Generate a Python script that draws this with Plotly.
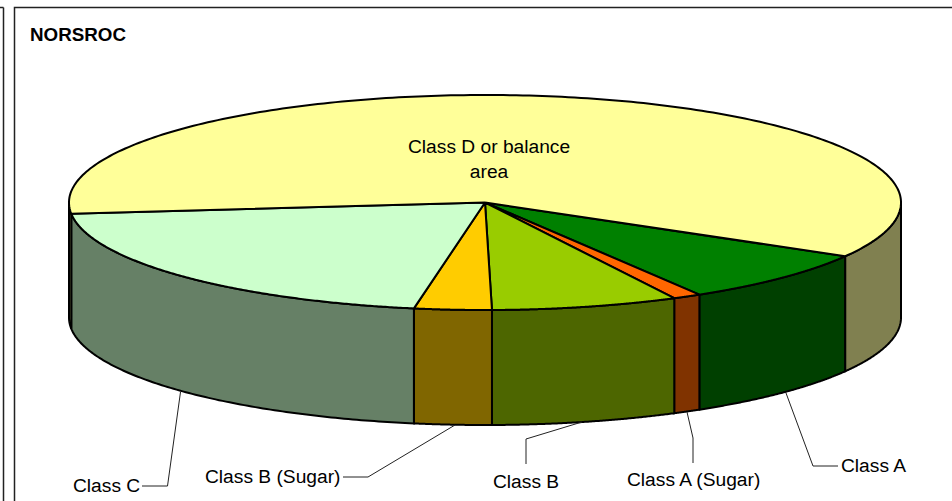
import numpy as np
import plotly.graph_objects as go

categories = ["Class A", "Class A (Sugar)", "Class B", "Class B (Sugar)", "Class C", "Class D or balance area"]
shares = [8.05, 1.1, 7.25, 3.0, 20.6, 60.0]
top_colors = ["#008000", "#FF6600", "#99CC00", "#FFCC00", "#CCFFCC", "#FFFF99"]
side_colors = ["#004000", "#803300", "#4D6600", "#806600", "#668066", "#808050"]

W, H = 952, 501
CX, CY, RX, RY, DEPTH = 485.0, 202.5, 416.0, 107.5, 115.0
START_DEG = 30.0
LW = 2
FONT = "Liberation Sans, Arial, sans-serif"
FS = 19.2

fig = go.Figure()


def ell(t):
    return CX + RX * np.cos(t), CY + RY * np.sin(t)


def poly(x, y, fill):
    fig.add_trace(go.Scatter(x=x, y=y, mode="lines", fill="toself", fillcolor=fill,
                             line=dict(color="black", width=LW, simplify=False),
                             hoverinfo="skip", showlegend=False))


edges = START_DEG + np.concatenate([[0], np.cumsum(shares)]) / sum(shares) * 360.0

# front walls: only the arc portion facing the viewer (screen-angle 0-180, and 360-540)
for i in range(len(shares)):
    a, b = edges[i], edges[i + 1]
    for lo, hi in [(0, 180), (360, 540)]:
        s, e = max(a, lo), min(b, hi)
        if e <= s:
            continue
        t = np.radians(np.linspace(s, e, 120))
        x, y = ell(t)
        px = np.concatenate([x, x[::-1], x[:1]])
        py = np.concatenate([y, y[::-1] + DEPTH, y[:1]])
        poly(px, py, side_colors[i])

# top faces
for i in range(len(shares)):
    t = np.radians(np.linspace(edges[i], edges[i + 1], 240))
    x, y = ell(t)
    poly(np.concatenate([[CX], x, [CX]]), np.concatenate([[CY], y, [CY]]), top_colors[i])

# leader lines
leaders = {
    "Class C": ([180.5, 167.5, 142], [392, 486, 486]),
    "Class B (Sugar)": ([455, 368, 343], [425, 477, 477]),
    "Class B": ([582, 526, 526], [422, 439, 464]),
    "Class A (Sugar)": ([687, 693, 693], [412, 438, 463]),
    "Class A": ([786, 813, 838], [393, 466, 466]),
}
for lx, ly in leaders.values():
    fig.add_trace(go.Scatter(x=lx, y=ly, mode="lines", line=dict(color="#222222", width=1),
                             hoverinfo="skip", showlegend=False))

labels = [
    ("Class C", 106, 485), ("Class B (Sugar)", 272, 476), ("Class B", 526, 481),
    ("Class A (Sugar)", 693, 479), ("Class A", 873.5, 465), ("Class D or balance<br>area", 489, 159),
]
annotations = [dict(x=x, y=y, text=t, showarrow=False, xanchor="center", yanchor="middle", align="center",
                    font=dict(family=FONT, size=FS, color="black")) for t, x, y in labels]
annotations.append(dict(x=30, y=34, text="<b>NORSROC</b>", showarrow=False, xanchor="left", yanchor="middle",
                        xshift=-2, font=dict(family=FONT, size=18.8, color="black")))

frame = dict(color="#222222", width=1.5)
shapes = [
    dict(type="rect", x0=14.5, y0=7.5, x1=970, y1=520, line=frame, layer="below"),
    dict(type="line", x0=3.5, y0=7.5, x1=3.5, y1=520, line=frame, layer="below"),
    dict(type="line", x0=-5, y0=7.5, x1=3.5, y1=7.5, line=frame, layer="below"),
]

fig.update_layout(
    width=W, height=H, margin=dict(l=0, r=0, t=0, b=0), autosize=False,
    paper_bgcolor="white", plot_bgcolor="white",
    xaxis=dict(range=[0, W], visible=False, fixedrange=True),
    yaxis=dict(range=[H, 0], visible=False, fixedrange=True),
    annotations=annotations, shapes=shapes, showlegend=False,
)
fig.write_html("out.html", config=dict(displayModeBar=False),
               post_script="document.body.style.margin='0';document.body.style.overflow='hidden';")
